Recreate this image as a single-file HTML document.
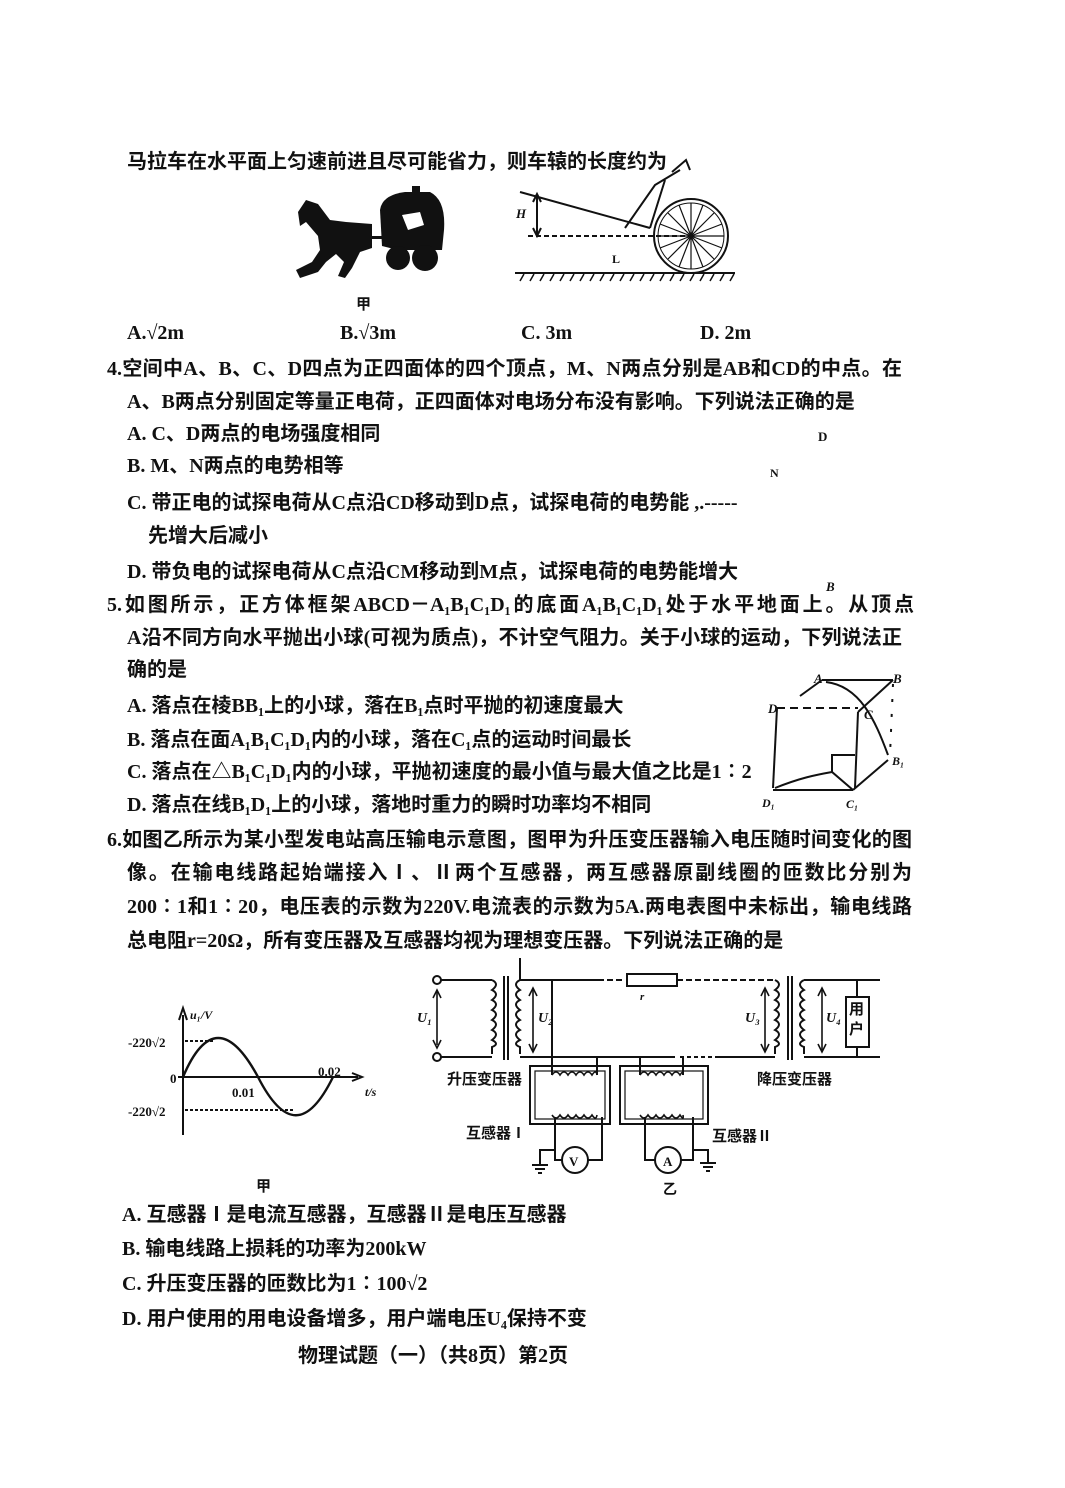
<!DOCTYPE html>
<html><head><meta charset="utf-8"><style>
body{margin:0;background:#fff;}
#p{position:relative;width:1065px;height:1488px;overflow:hidden;background:#fff;font-family:"Liberation Serif","Noto Sans CJK SC",sans-serif;font-weight:bold;color:#111;}
.t{position:absolute;font-size:20px;line-height:22px;white-space:nowrap;}
.j{text-align:justify;text-align-last:justify;white-space:normal;}
svg{position:absolute;left:0;top:0;}
</style></head><body><div id="p">
<svg width="1065" height="1488" viewBox="0 0 1065 1488" fill="none" stroke="#111" stroke-width="2">
<g fill="#111" stroke="none">
<path d="M298 212 L306 200 L318 204 L330 220 L346 222 L372 224 L372 248 L360 252 L352 268 L345 278 L338 276 L344 262 L336 254 L326 262 L318 272 L300 278 L296 270 L312 262 L320 250 L318 236 L306 222 L300 226 Z"/>
<path d="M380 210 Q382 195 405 192 L430 192 Q446 200 444 230 L442 250 L398 250 L382 246 Z"/>
<circle cx="398" cy="258" r="12"/><circle cx="425" cy="258" r="13"/>
<rect x="360" y="236" width="30" height="3"/>
<rect x="412" y="186" width="8" height="8"/>
</g>
<path d="M402 215 L420 212 L424 225 L408 230 Z" fill="#fff" stroke="none"/>
<line x1="515" y1="273" x2="735" y2="273"/>
<g stroke-width="1.5"><path d="M520 281 L524 274 M530 281 L534 274 M540 281 L544 274 M550 281 L554 274 M560 281 L564 274 M570 281 L574 274 M580 281 L584 274 M590 281 L594 274 M600 281 L604 274 M610 281 L614 274 M620 281 L624 274 M630 281 L634 274 M640 281 L644 274 M650 281 L654 274 M660 281 L664 274 M670 281 L674 274 M680 281 L684 274 M690 281 L694 274 M700 281 L704 274 M710 281 L714 274 M720 281 L724 274 M730 281 L734 274"/></g>
<circle cx="691" cy="236" r="37"/><circle cx="691" cy="236" r="33" stroke-width="1"/>
<g stroke-width="1.2"><path d="M658 236 L724 236 M691 203 L691 269 M668 213 L714 259 M668 259 L714 213 M679 205 L703 267 M679 267 L703 205 M660 224 L722 248 M660 248 L722 224"/></g>
<line x1="520" y1="192" x2="650" y2="228"/>
<path d="M625 228 L655 185 L680 170 M650 228 L665 180 M672 172 L686 160 L690 170"/>
<line x1="537" y1="196" x2="537" y2="234"/>
<path d="M533 202 L537 194 L541 202 M533 228 L537 236 L541 228"/>
<line x1="528" y1="236" x2="690" y2="236" stroke-dasharray="5,3"/>
<line x1="183" y1="1135" x2="183" y2="1015"/><path d="M179 1020 L183 1008 L187 1020"/>
<line x1="178" y1="1077" x2="358" y2="1077"/><path d="M352 1073 L362 1077 L352 1081"/>
<path d="M183 1077 C205 1025 230 1025 258 1077 C284 1128 308 1128 333 1077" stroke-width="2.4"/>
<line x1="185" y1="1041" x2="215" y2="1041" stroke-dasharray="3,2"/>
<line x1="185" y1="1110" x2="295" y2="1110" stroke-dasharray="3,2"/>
<circle cx="437" cy="980" r="4"/><circle cx="437" cy="1057" r="4"/>
<line x1="441" y1="980" x2="492" y2="980"/><line x1="441" y1="1057" x2="492" y2="1057"/>
<path d="M492 980 q8 4 0 10 q8 4 0 10 q8 4 0 10 q8 4 0 10 q8 4 0 10 q8 4 0 10 q8 4 0 7 v7" />
<line x1="504" y1="976" x2="504" y2="1060"/><line x1="508" y1="976" x2="508" y2="1060"/>
<path d="M520 980 q-8 4 0 10 q-8 4 0 10 q-8 4 0 10 q-8 4 0 10 q-8 4 0 10 q-8 4 0 10 q-8 4 0 7 v7"/>
<line x1="520" y1="980" x2="598" y2="980"/><line x1="520" y1="1057" x2="640" y2="1057"/>
<line x1="520" y1="958" x2="520" y2="980"/>
<line x1="598" y1="980" x2="625" y2="980" stroke-dasharray="6,3"/>
<rect x="627" y="974" width="50" height="12"/>
<line x1="677" y1="980" x2="775" y2="980" stroke-dasharray="6,3"/>
<line x1="640" y1="1057" x2="675" y2="1057"/>
<line x1="680" y1="1057" x2="715" y2="1057" stroke-dasharray="4,3"/><line x1="715" y1="1057" x2="775" y2="1057"/>
<path d="M775 980 q8 4 0 10 q8 4 0 10 q8 4 0 10 q8 4 0 10 q8 4 0 10 q8 4 0 10 q8 4 0 7 v7"/>
<line x1="788" y1="976" x2="788" y2="1060"/><line x1="792" y1="976" x2="792" y2="1060"/>
<path d="M804 980 q-8 4 0 10 q-8 4 0 10 q-8 4 0 10 q-8 4 0 10 q-8 4 0 10 q-8 4 0 10 q-8 4 0 7 v7"/>
<line x1="804" y1="980" x2="880" y2="980"/><line x1="804" y1="1057" x2="880" y2="1057"/>
<line x1="857" y1="980" x2="857" y2="997"/><line x1="857" y1="1047" x2="857" y2="1057"/>
<rect x="846" y="997" width="23" height="50"/>
<g stroke-width="1.6"><line x1="437" y1="992" x2="437" y2="1045"/><path d="M433 998 L437 990 L441 998 M433 1040 L437 1048 L441 1040"/>
<line x1="533" y1="990" x2="533" y2="1050"/><path d="M529 996 L533 988 L537 996 M529 1044 L533 1052 L537 1044"/>
<line x1="765" y1="990" x2="765" y2="1050"/><path d="M761 996 L765 988 L769 996 M761 1044 L765 1052 L769 1044"/>
<line x1="822" y1="990" x2="822" y2="1050"/><path d="M818 996 L822 988 L826 996 M818 1044 L822 1052 L826 1044"/></g>
<line x1="552" y1="980" x2="552" y2="1075"/><line x1="597" y1="1057" x2="597" y2="1075"/>
<line x1="640" y1="1057" x2="640" y2="1075"/><line x1="683" y1="1057" x2="683" y2="1075"/>
<rect x="530" y="1066" width="80" height="58"/><rect x="535" y="1071" width="70" height="48" stroke-width="1.2"/>
<rect x="620" y="1066" width="88" height="58"/><rect x="625" y="1071" width="78" height="48" stroke-width="1.2"/>
<path d="M552 1075 q4 -6 8 0 q4 -6 8 0 q4 -6 8 0 q4 -6 8 0 q4 -6 8 0 q4 -6 5 0" stroke-width="1.6"/>
<path d="M552 1115 q4 6 8 0 q4 6 8 0 q4 6 8 0 q4 6 8 0 q4 6 8 0 q4 6 5 0" stroke-width="1.6"/>
<path d="M640 1075 q4 -6 8 0 q4 -6 8 0 q4 -6 8 0 q4 -6 8 0 q4 -6 8 0 q4 -6 3 0" stroke-width="1.6"/>
<path d="M640 1115 q4 6 8 0 q4 6 8 0 q4 6 8 0 q4 6 8 0 q4 6 8 0 q4 6 3 0" stroke-width="1.6"/>
<path d="M555 1117 V1150 H540 V1165 M532 1165 H548 M535 1169 H545 M538 1173 H542"/>
<path d="M555 1150 V1160 H562 M588 1160 H602 V1117"/>
<circle cx="575" cy="1160" r="13"/>
<path d="M645 1117 V1160 H655 M681 1160 H693 V1117 M693 1150 H708 V1163 M700 1163 H716 M703 1167 H713 M706 1171 H710"/>
<circle cx="668" cy="1160" r="13"/>
<g stroke-width="2">
<line x1="822" y1="680" x2="893" y2="680"/><line x1="893" y1="680" x2="858" y2="712"/>
<line x1="822" y1="680" x2="800" y2="696"/>
<line x1="777" y1="708" x2="858" y2="708" stroke-dasharray="8,5"/>
<line x1="777" y1="708" x2="773" y2="788"/><line x1="773" y1="790" x2="853" y2="790"/>
<line x1="853" y1="790" x2="888" y2="760"/><line x1="858" y1="712" x2="855" y2="788"/>
<line x1="893" y1="684" x2="890" y2="755" stroke-dasharray="3,12"/>
<path d="M826 682 C860 686 875 720 888 755"/>
<path d="M775 788 C800 778 815 775 832 772 L853 790"/>
<path d="M832 772 V755 H855"/>
</g>
</svg>
<div class="t" style="left:127px;top:151px;">马拉车在水平面上匀速前进且尽可能省力，则车辕的长度约为</div>
<div class="t" style="left:516px;top:203px;font-style:italic;font-size:13px">H</div>
<div class="t" style="left:612px;top:248px;font-size:12px">L</div>
<div class="t" style="left:356px;top:294px;font-size:15px">甲</div>
<div class="t" style="left:127px;top:322px;">A.√2m</div>
<div class="t" style="left:340px;top:322px;">B.√3m</div>
<div class="t" style="left:521px;top:322px;">C. 3m</div>
<div class="t" style="left:700px;top:322px;">D. 2m</div>
<div class="t j" style="left:107px;top:358px;width:795px;">4.空间中A、B、C、D四点为正四面体的四个顶点，M、N两点分别是AB和CD的中点。在</div>
<div class="t" style="left:127px;top:391px;">A、B两点分别固定等量正电荷，正四面体对电场分布没有影响。下列说法正确的是</div>
<div class="t" style="left:127px;top:423px;">A. C、D两点的电场强度相同</div>
<div class="t" style="left:818px;top:426px;font-size:13px">D</div>
<div class="t" style="left:127px;top:455px;">B. M、N两点的电势相等</div>
<div class="t" style="left:770px;top:462px;font-size:12px">N</div>
<div class="t" style="left:127px;top:492px;">C. 带正电的试探电荷从C点沿CD移动到D点，试探电荷的电势能 ,.-----</div>
<div class="t" style="left:148px;top:525px;">先增大后减小</div>
<div class="t" style="left:127px;top:561px;">D. 带负电的试探电荷从C点沿CM移动到M点，试探电荷的电势能增大</div>
<div class="t" style="left:826px;top:576px;font-size:13px;font-style:italic">B</div>
<div class="t j" style="left:107px;top:594px;width:807px;">5.如图所示，正方体框架ABCD－A₁B₁C₁D₁的底面A₁B₁C₁D₁处于水平地面上。从顶点</div>
<div class="t j" style="left:127px;top:627px;width:775px;">A沿不同方向水平抛出小球(可视为质点)，不计空气阻力。关于小球的运动，下列说法正</div>
<div class="t" style="left:127px;top:659px;">确的是</div>
<div class="t" style="left:127px;top:695px;">A. 落点在棱BB₁上的小球，落在B₁点时平抛的初速度最大</div>
<div class="t" style="left:127px;top:729px;">B. 落点在面A₁B₁C₁D₁内的小球，落在C₁点的运动时间最长</div>
<div class="t" style="left:127px;top:761px;">C. 落点在△B₁C₁D₁内的小球，平抛初速度的最小值与最大值之比是1∶2</div>
<div class="t" style="left:127px;top:794px;">D. 落点在线B₁D₁上的小球，落地时重力的瞬时功率均不相同</div>
<div class="t" style="left:814px;top:668px;font-size:13px;font-style:italic">A</div>
<div class="t" style="left:893px;top:668px;font-size:13px;font-style:italic">B</div>
<div class="t" style="left:768px;top:698px;font-size:13px;font-style:italic">D</div>
<div class="t" style="left:864px;top:704px;font-size:13px;font-style:italic">C</div>
<div class="t" style="left:892px;top:750px;font-size:12px;font-style:italic">B₁</div>
<div class="t" style="left:762px;top:792px;font-size:12px;font-style:italic">D₁</div>
<div class="t" style="left:846px;top:793px;font-size:12px;font-style:italic">C₁</div>
<div class="t j" style="left:107px;top:829px;width:805px;">6.如图乙所示为某小型发电站高压输电示意图，图甲为升压变压器输入电压随时间变化的图</div>
<div class="t j" style="left:127px;top:862px;width:785px;">像。在输电线路起始端接入Ⅰ、Ⅱ两个互感器，两互感器原副线圈的匝数比分别为</div>
<div class="t j" style="left:127px;top:896px;width:785px;">200∶1和1∶20，电压表的示数为220V.电流表的示数为5A.两电表图中未标出，输电线路</div>
<div class="t" style="left:127px;top:930px;">总电阻r=20Ω，所有变压器及互感器均视为理想变压器。下列说法正确的是</div>
<div class="t" style="left:190px;top:1004px;font-size:12px;font-style:italic">u₁/V</div>
<div class="t" style="left:128px;top:1032px;font-size:13px">-220√2</div>
<div class="t" style="left:170px;top:1068px;font-size:13px">0</div>
<div class="t" style="left:232px;top:1082px;font-size:13px">0.01</div>
<div class="t" style="left:318px;top:1061px;font-size:13px">0.02</div>
<div class="t" style="left:365px;top:1081px;font-size:12px;font-style:italic">t/s</div>
<div class="t" style="left:128px;top:1101px;font-size:13px">-220√2</div>
<div class="t" style="left:256px;top:1176px;font-size:15px">甲</div>
<div class="t" style="left:417px;top:1008px;font-size:14px;font-style:italic">U₁</div>
<div class="t" style="left:538px;top:1008px;font-size:14px;font-style:italic">U₂</div>
<div class="t" style="left:745px;top:1008px;font-size:14px;font-style:italic">U₃</div>
<div class="t" style="left:826px;top:1008px;font-size:14px;font-style:italic">U₄</div>
<div class="t" style="left:640px;top:986px;font-size:11px;font-style:italic">r</div>
<div class="t" style="left:849px;top:1000px;font-size:15px;line-height:20px;white-space:normal;width:18px">用户</div>
<div class="t" style="left:447px;top:1069px;font-size:15px">升压变压器</div>
<div class="t" style="left:757px;top:1069px;font-size:15px">降压变压器</div>
<div class="t" style="left:466px;top:1123px;font-size:15px">互感器Ⅰ</div>
<div class="t" style="left:712px;top:1126px;font-size:15px">互感器Ⅱ</div>
<div class="t" style="left:569px;top:1151px;font-size:13px">V</div>
<div class="t" style="left:663px;top:1151px;font-size:13px">A</div>
<div class="t" style="left:663px;top:1180px;font-size:14px">乙</div>
<div class="t" style="left:122px;top:1204px;">A. 互感器Ⅰ是电流互感器，互感器Ⅱ是电压互感器</div>
<div class="t" style="left:122px;top:1238px;">B. 输电线路上损耗的功率为200kW</div>
<div class="t" style="left:122px;top:1273px;">C. 升压变压器的匝数比为1∶100√2</div>
<div class="t" style="left:122px;top:1308px;">D. 用户使用的用电设备增多，用户端电压U₄保持不变</div>
<div class="t" style="left:298px;top:1345px;">物理试题（一）（共8页）第2页</div>
</div></body></html>
